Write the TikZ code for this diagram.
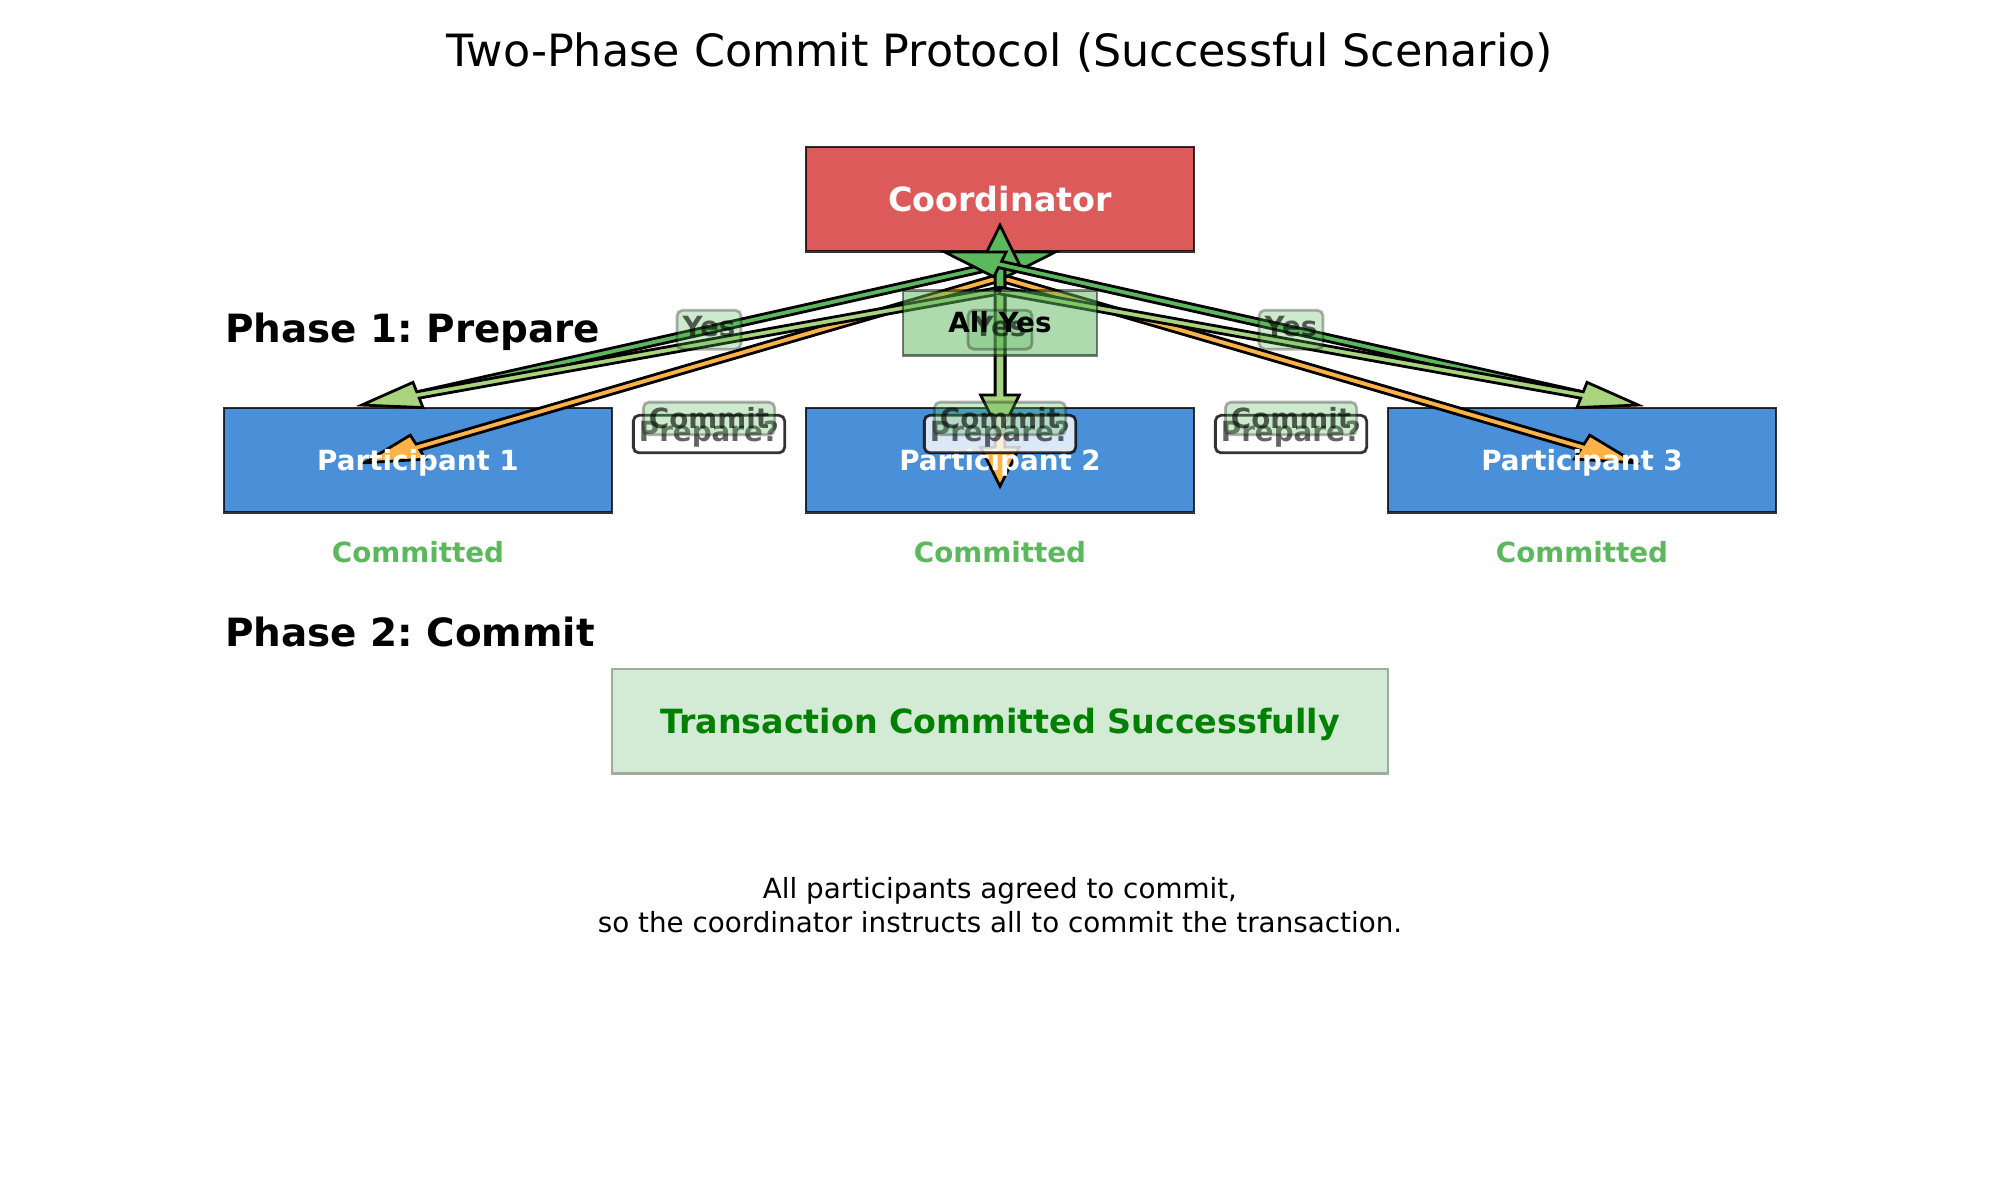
\documentclass[tikz,border=0pt]{standalone}
\usepackage{fontspec}
\setmainfont{DejaVu Sans}
\usetikzlibrary{calc}
\frenchspacing

\definecolor{coordred}{RGB}{220,90,90}
\definecolor{partblue}{RGB}{74,144,217}
\definecolor{okgreen}{RGB}{92,184,92}
\definecolor{commitgreen}{RGB}{168,212,125}
\definecolor{preporange}{RGB}{255,179,71}
\definecolor{txfill}{RGB}{211,235,213}
\definecolor{txedge}{RGB}{160,172,160}
\definecolor{txtext}{RGB}{0,128,0}

\tikzset{every picture/.style={line width=0.75pt}}
\tikzset{
  box/.style={draw=black, draw opacity=0.8, line width=1pt, minimum width=139.68pt, minimum height=37.58pt, inner sep=0pt, outer sep=0pt},
  boxtext/.style={text=white, font=\bfseries\fontsize{10}{12}\selectfont, text height=7.6pt, text depth=0pt, inner sep=0pt},
  donetext/.style={text=okgreen, font=\bfseries\fontsize{10}{12}\selectfont, text height=7.6pt, text depth=0pt, inner sep=0pt},
  phasetext/.style={font=\bfseries\fontsize{14}{16.8}\selectfont, anchor=base west, inner sep=0pt},
  msg/.style={draw=black, line width=1pt, line join=miter},
  preplbl/.style={fill=white, fill opacity=0.8, draw=black, draw opacity=0.8, text=black, text opacity=0.6, rounded corners=2pt, inner sep=2pt, line width=1pt, font=\bfseries\fontsize{10}{12}\selectfont},
  votelbl/.style={fill=okgreen, fill opacity=0.3, draw=black, draw opacity=0.3, text=black, text opacity=0.62, rounded corners=2pt, inner sep=2pt, line width=1pt, font=\bfseries\fontsize{10}{12}\selectfont}
}

% x: 194px per unit, y: 130.5px per unit (1px = 0.36pt)
\newcommand{\xu}{69.84}
\newcommand{\yu}{46.98}
% filled message arrow, head beyond the end point
\newcommand{\msgarrow}[3]{%
  \filldraw[msg, fill=#3] let \p1=(#1), \p2=(#2),
      \n1={(\x2-\x1)/\xu}, \n2={(\y2-\y1)/\yu}, \n3={veclen(\n1,\n2)},
      \n4={\n1/\n3}, \n5={\n2/\n3},
      \n6={-0.025*\xu*(\n5)}, \n7={0.025*\yu*(\n4)},
      \n8={-0.1*\xu*(\n5)}, \n9={0.1*\yu*(\n4)},
      \n{tx}={0.3*\xu*(\n4)}, \n{ty}={0.3*\yu*(\n5)}
    in ({\x1+(\n6)}, {\y1+(\n7)}) -- ({\x2+(\n6)}, {\y2+(\n7)}) -- ({\x2+(\n8)}, {\y2+(\n9)})
    -- ({\x2+(\n{tx})}, {\y2+(\n{ty})}) -- ({\x2-(\n8)}, {\y2-(\n9)}) -- ({\x2-(\n6)}, {\y2-(\n7)})
    -- ({\x1-(\n6)}, {\y1-(\n7)}) -- cycle;}

\begin{document}
\begin{tikzpicture}[x=69.84pt,y=46.98pt]
\useasboundingbox (-0.1546,-0.2690) rectangle (10.1546,8.9264);

% Text Node
\node[font=\fontsize{16}{19.2}\selectfont, anchor=base, inner sep=0pt] (title) at (5,8.416) {Two-Phase Commit Protocol (Successful Scenario)};

%Shape: Rectangle [coordinator]
\node[box, fill=coordred] (coord) at (5,7.4) {};
%Shape: Rectangle [participants]
\foreach \i/\px in {1/2,2/5,3/8}
  \node[box, fill=partblue] (p\i) at (\px,5.4) {};

% arrow ends
\coordinate (cprep) at ($(coord.south)+(0,-0.2)$);
\coordinate (cvote) at ($(coord.south)+(0,-0.1)$);
\coordinate (cdecide) at ($(coord.south)+(0,-0.3)$);
\foreach \i in {1,2,3} {
  \coordinate (pprep\i) at ($(p\i.center)+(0,0.1)$);
  \coordinate (pvote\i) at ($(p\i.north)+(0,0.1)$);
}

%Straight Lines [prepare]
\foreach \i in {1,2,3} {\msgarrow{cprep}{pprep\i}{preporange}}
%Straight Lines [yes votes]
\foreach \i in {1,2,3} {\msgarrow{pvote\i}{cvote}{okgreen}}
%Straight Lines [commit]
\foreach \i in {1,2,3} {\msgarrow{cdecide}{pvote\i}{commitgreen}}

%Shape: Rectangle [all yes]
\node[fill=okgreen, fill opacity=0.5, draw=black, draw opacity=0.5, line width=1pt, minimum width=69.84pt, minimum height=23.49pt, inner sep=0pt, outer sep=0pt] (allyes) at (5,6.45) {};
%Shape: Rectangle [result]
\node[draw=txedge, fill=txfill, line width=1pt, minimum width=279.36pt, minimum height=37.58pt, inner sep=0pt, text=txtext, font=\bfseries\fontsize{12}{14.4}\selectfont, text height=9.1pt, text depth=0pt] (tx) at (5,3.4) {Transaction Committed Successfully};

% Text Node
\node[boxtext, font=\bfseries\fontsize{12}{14.4}\selectfont, text height=9.1pt] at (coord) {Coordinator};
% Text Node
\foreach \i in {1,2,3} {
  \node[boxtext] at (p\i) {Participant \i};
  \node[donetext] (done\i) at ($(p\i.south)+(0,-0.3)$) {Committed};
}

% Text Node
\foreach \i/\mx in {1/3.5,2/5,3/6.5}
  \node[preplbl] (prep\i) at (\mx,5.6) {Prepare?};
% Text Node
\foreach \i/\mx in {1/3.5,2/5,3/6.5}
  \node[votelbl, text height=7.6pt, text depth=2.4pt] (yes\i) at (\mx,6.4) {Yes};
% Text Node
\foreach \i/\mx in {1/3.5,2/5,3/6.5}
  \node[votelbl] (commit\i) at (\mx,5.72) {Commit};

% Text Node
\node[font=\bfseries\fontsize{10}{12}\selectfont, text height=7.6pt, text depth=0.8pt, inner sep=0pt] at (allyes) {All Yes};
% Text Node
\node[phasetext] (phase1) at (1,6.3) {Phase 1: Prepare};
% Text Node
\node[phasetext] (phase2) at (1,3.97) {Phase 2: Commit};
% Text Node
\node[font=\fontsize{10}{12}\selectfont, align=center, inner sep=0pt] (note) at (5,1.99) {All participants agreed to commit,\\so the coordinator instructs all to commit the transaction.};

\end{tikzpicture}
\end{document}
